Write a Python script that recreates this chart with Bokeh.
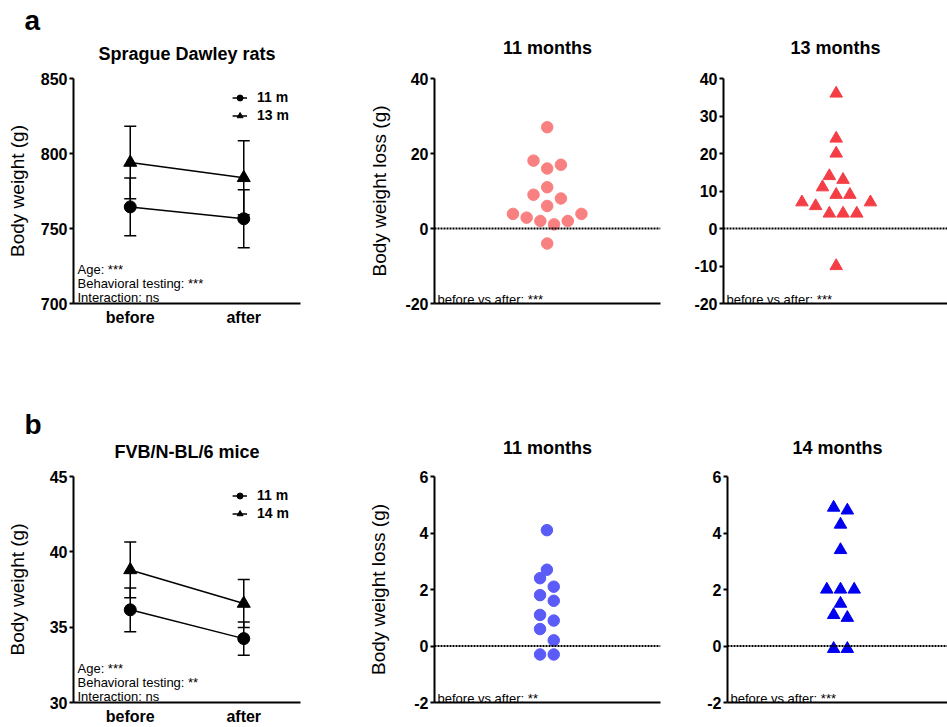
import numpy as np
from bokeh.plotting import figure
from bokeh.models import (Range1d, FixedTicker, Whisker, TeeHead, ColumnDataSource,
                          Label, Legend, LegendItem, Span, Title)
from bokeh.layouts import row, column
from bokeh.embed import file_html
from bokeh.resources import INLINE

FONT = "Liberation Sans"

# ---------------- data ----------------
phases = ["before", "after"]

rat_11m_mean = [764.4, 756.5]
rat_11m_sem = [19.2, 19.4]
rat_13m_mean = [794.0, 783.8]
rat_13m_sem = [24.2, 24.7]

mouse_11m_mean = [36.15, 34.24]
mouse_11m_sem = [1.45, 1.10]
mouse_14m_mean = [38.8, 36.57]
mouse_14m_sem = [1.85, 1.60]

rat_loss_11m = [27, 18.1, 17, 16, 11, 9, 8, 6, 3.9, 2.9, 2.0, 1.1, 2.0, 3.9, -4]
rat_loss_13m = [36, 24, 20, 14, 13, 11, 9, 9, 7, 6, 4, 4, 4, 7, -10]
mouse_loss_11m = [4.1, 2.7, 2.4, 2.1, 1.8, 1.6, 1.1, 0.9, 0.6, 0.2, -0.3, -0.3]
mouse_loss_14m = [4.8, 4.9, 4.3, 3.4, 2.0, 2.0, 2.0, 1.5, 1.1, 1.0, -0.1, -0.1]

rat_ticks = [700, 750, 800, 850]
mouse_ticks = [30, 35, 40, 45]
rat_loss_ticks_mid = [-20, 0, 20, 40]
rat_loss_ticks_right = [-20, -10, 0, 10, 20, 30, 40]
mouse_loss_ticks = [-2, 0, 2, 4, 6]


def style_axes(p, yticks, ylabel, label_standoff):
    p.xgrid.visible = False
    p.ygrid.visible = False
    p.outline_line_color = None
    p.background_fill_color = "white"
    for ax in (p.xaxis[0], p.yaxis[0]):
        ax.axis_line_width = 2
        ax.axis_line_color = "black"
        ax.major_tick_line_width = 2
        ax.major_tick_line_color = "black"
        ax.minor_tick_line_color = None
        ax.major_tick_in = 0
    ya = p.yaxis[0]
    ya.ticker = FixedTicker(ticks=yticks)
    ya.major_label_overrides = {t: str(t) for t in yticks}
    ya.major_tick_out = 4
    ya.major_label_standoff = 2
    ya.major_label_text_font = FONT
    ya.major_label_text_font_size = "16px"
    ya.major_label_text_font_style = "bold"
    ya.major_label_text_color = "black"
    if ylabel:
        ya.axis_label = ylabel
        ya.axis_label_text_font = FONT
        ya.axis_label_text_font_size = "19px"
        ya.axis_label_text_font_style = "normal"
        ya.axis_label_text_color = "black"
        ya.axis_label_standoff = label_standoff


def add_title(p, text, standoff):
    p.add_layout(Title(text=text, align="center", text_font=FONT, text_font_size="18px",
                       text_font_style="bold", text_color="black", standoff=standoff), "above")


def make_fig(borders, fw, fh, x_range, y_range):
    bl, br, bt, bb = borders
    return figure(width=bl + fw + br, height=bt + fh + bb,
                  min_border_left=bl, min_border_right=br,
                  min_border_top=bt, min_border_bottom=bb,
                  x_range=x_range, y_range=y_range, title_location=None,
                  output_backend="svg", toolbar_location=None)


def line_panel(borders, fw, fh, title, title_standoff, yr, yticks, series, stats,
               letter, letter_standoff, xlab_standoff, ylab_standoff):
    p = make_fig(borders, fw, fh, Range1d(0, len(phases)), Range1d(*yr))
    style_axes(p, yticks, "Body weight (g)", ylab_standoff)
    add_title(p, title, title_standoff)
    p.add_layout(Title(text=letter, align="left", offset=-49, text_font=FONT,
                       text_font_size="28px", text_font_style="bold", text_color="black",
                       standoff=letter_standoff), "above")
    xs = [i + 0.5 for i in range(len(phases))]
    xa = p.xaxis[0]
    xa.ticker = FixedTicker(ticks=xs)
    xa.major_label_overrides = {x: lab for x, lab in zip(xs, phases)}
    xa.major_tick_out = 0
    xa.major_label_standoff = xlab_standoff
    xa.major_label_text_font = FONT
    xa.major_label_text_font_size = "16px"
    xa.major_label_text_font_style = "bold"
    xa.major_label_text_color = "black"

    items = []
    for lab, mean, sem, marker, msize in series:
        src = ColumnDataSource(dict(x=xs, y=mean,
                                    upper=[m + s for m, s in zip(mean, sem)],
                                    lower=[m - s for m, s in zip(mean, sem)]))
        w = Whisker(base="x", upper="upper", lower="lower", source=src,
                    line_width=1.5, line_color="black",
                    upper_head=TeeHead(size=12, line_width=1.5, line_color="black"),
                    lower_head=TeeHead(size=12, line_width=1.5, line_color="black"))
        p.add_layout(w)
        lr = p.line("x", "y", source=src, line_width=1.5, line_color="black")
        sr = p.scatter("x", "y", source=src, marker=marker, size=msize,
                       fill_color="black", line_color="black")
        items.append(LegendItem(label=lab, renderers=[lr, sr]))
    legend = Legend(items=items, location="top_right",
                    label_text_font=FONT, label_text_font_size="14px",
                    label_text_font_style="bold", label_text_color="black",
                    glyph_width=15, glyph_height=15, label_height=15, spacing=2,
                    padding=3, margin=8, label_standoff=10,
                    border_line_alpha=0, background_fill_alpha=0)
    p.add_layout(legend)

    for text, yy in zip(stats, [34.5, 20, 6.5]):
        p.add_layout(Label(x=4, y=yy, x_units="screen", y_units="screen", text=text,
                           text_font=FONT, text_font_size="13px", text_color="black",
                           text_baseline="alphabetic"))
    return p


def swarm_offsets(vals, y_span, fh, row_px=13.0, step_px=13.7):
    """GraphPad-like column scatter: points within one symbol height share a row,
    rows are centred, filled from the lowest value outward (right first)."""
    h = row_px * y_span / fh
    order = sorted(range(len(vals)), key=lambda i: vals[i])
    rows, cur = [], []
    for i in order:
        if cur and vals[i] - vals[cur[0]] >= h:
            rows.append(cur)
            cur = []
        cur.append(i)
    if cur:
        rows.append(cur)
    off = [0.0] * len(vals)
    for r in rows:
        n = len(r)
        if n % 2:
            slots = [0.0] + [s for k in range(1, n // 2 + 1) for s in (k, -k)]
        else:
            slots = [s for k in range(n // 2) for s in (k + 0.5, -(k + 0.5))]
        for i, s in zip(r, slots):
            off[i] = s * step_px
    return off


def scatter_panel(borders, fw, fh, center_px, title, title_standoff, yr, yticks, vals,
                  marker, msize, color, ylabel, ylab_standoff, stat):
    p = make_fig(borders, fw, fh, Range1d(-center_px, fw - center_px), Range1d(*yr))
    style_axes(p, yticks, ylabel, ylab_standoff)
    add_title(p, title, title_standoff)
    xa = p.xaxis[0]
    xa.ticker = FixedTicker(ticks=[])
    xa.major_tick_out = 0
    xa.major_label_text_font_size = "0px"
    p.add_layout(Span(location=0, dimension="width", line_color="black",
                      line_width=2, line_dash="2 1"))
    xs = swarm_offsets(vals, yr[1] - yr[0], fh)
    src = ColumnDataSource(dict(x=xs, y=vals))
    p.scatter("x", "y", source=src, marker=marker, size=msize,
              fill_color=color, line_color=color)
    p.add_layout(Label(x=3, y=4.5, x_units="screen", y_units="screen", text=stat,
                       text_font=FONT, text_font_size="13px", text_color="black",
                       text_baseline="alphabetic"))
    return p


# ---------------- row a ----------------
f1 = line_panel((73, 60, 77, 91), 227, 227, "Sprague Dawley rats", 30, (700, 850), rat_ticks,
                [("11 m", rat_11m_mean, rat_11m_sem, "circle", 12),
                 ("13 m", rat_13m_mean, rat_13m_sem, "triangle", 13)],
                ["Age: ***", "Behavioral testing: ***", "Interaction: ns"],
                "a", -18, 5, 10)
f2 = scatter_panel((74, 20, 78, 92), 226, 225, 112.7, "11 months", 41, (-20, 40),
                   rat_loss_ticks_mid, rat_loss_11m, "circle", 11.5, "#F98080",
                   "Body weight loss (g)", 12, "before vs after: ***")
f3 = scatter_panel((43, 0, 78, 92), 224, 225, 112.7, "13 months", 41, (-20, 40),
                   rat_loss_ticks_right, rat_loss_13m, "triangle", 12.5, "#F43E46",
                   None, 0, "before vs after: ***")

# ---------------- row b ----------------
f4 = line_panel((73, 60, 81, 24), 227, 227, "FVB/N-BL/6 mice", 30, (30, 45), mouse_ticks,
                [("11 m", mouse_11m_mean, mouse_11m_sem, "circle", 12),
                 ("14 m", mouse_14m_mean, mouse_14m_sem, "triangle", 13)],
                ["Age: ***", "Behavioral testing: **", "Interaction: ns"],
                "b", -30, 5, 19)
f5 = scatter_panel((74, 20, 81, 25), 226, 226, 112.4, "11 months", 37, (-2, 6),
                   mouse_loss_ticks, mouse_loss_11m, "circle", 11.5, "#5B5BF7",
                   "Body weight loss (g)", 22, "before vs after: **")
f6 = scatter_panel((47, 0, 81, 25), 220, 226, 113, "14 months", 37, (-2, 6),
                   mouse_loss_ticks, mouse_loss_14m, "triangle", 12.5, "#0000F0",
                   None, 0, "before vs after: ***")

layout = column(row(f1, f2, f3), row(f4, f5, f6))
open("out.html", "w").write(file_html(layout, INLINE))
